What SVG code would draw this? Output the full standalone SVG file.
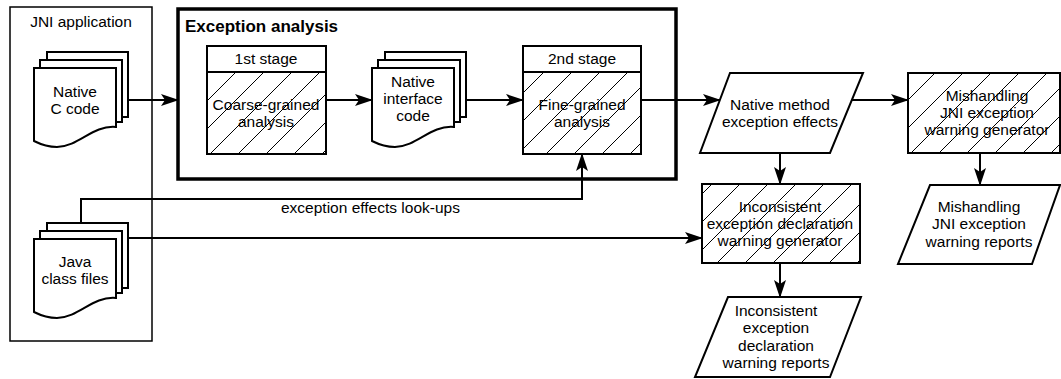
<svg xmlns="http://www.w3.org/2000/svg" width="1061" height="379" viewBox="0 0 1061 379">
<style>
text{font-family:"Liberation Sans",Arial,sans-serif;font-size:15.5px;fill:#000}
.c{text-anchor:middle}
.box{fill:#fff;stroke:#000;stroke-width:2}
.hatch{fill:url(#h);stroke:#000;stroke-width:2}
.page{fill:#fff;stroke:#000;stroke-width:2}
.con{fill:none;stroke:#000;stroke-width:2}
.arr{marker-end:url(#a)}
</style>
<defs>
<pattern id="h" patternUnits="userSpaceOnUse" width="28" height="28">
<rect width="28" height="28" fill="#fff"/>
<path d="M0,28 L28,0 M-7,7 L7,-7 M21,35 L35,21" stroke="#000" stroke-width="1"/>
</pattern>
<marker id="a" markerUnits="userSpaceOnUse" viewBox="0 0 18 12" refX="17" refY="6" markerWidth="18" markerHeight="12" orient="auto">
<path d="M0,0 L18,6 L0,12 L4,6 Z" fill="#000"/>
</marker>
<g id="docstack">
<rect x="47" y="52" width="81" height="65" class="page"/>
<rect x="40" y="60" width="82" height="62" class="page"/>
<path d="M34,68 H116 V127 C92,125 80,146 57,147 C47,147 40,144 34,141 Z" class="page"/>
</g>
</defs>

<g id="jni-app">
<rect x="10" y="7" width="142" height="334" fill="#fff" stroke="#000" stroke-width="1.5"/>
<text class="c" x="81" y="27">JNI application</text>
</g>

<g id="exception-analysis">
<rect x="178" y="9" width="498" height="170" fill="#fff" stroke="#000" stroke-width="3.5"/>
<text x="185" y="32" style="font-weight:bold;font-size:17px">Exception analysis</text>
</g>

<g id="connectors">
<path class="con arr" d="M128,100 H178"/>
<path class="con arr" d="M326,100 H372"/>
<path class="con arr" d="M467,100 H523"/>
<path class="con arr" d="M641,100 H720"/>
<path class="con arr" d="M852,100 H908"/>
<path class="con arr" d="M780,153 V184"/>
<path class="con arr" d="M980,153 V185"/>
<path class="con arr" d="M780,263 V297"/>
<path class="con arr" d="M81,223 V199 H582 V154"/>
<path class="con arr" d="M129,238 H702"/>
<text x="281" y="213">exception effects look-ups</text>
</g>

<g id="native-c-code">
<use href="#docstack"/>
<text class="c" x="75" y="97">Native</text>
<text class="c" x="75" y="114">C code</text>
</g>

<g id="java-class-files">
<use href="#docstack" transform="translate(0,171)"/>
<text class="c" x="75" y="267">Java</text>
<text class="c" x="75" y="284">class files</text>
</g>

<g id="stage1">
<rect x="207" y="46" width="119" height="108" class="hatch"/>
<rect x="207" y="46" width="119" height="26" class="box"/>
<text class="c" x="266" y="64">1st stage</text>
<text class="c" x="266" y="110">Coarse-grained</text>
<text class="c" x="266" y="127">analysis</text>
</g>

<g id="native-interface-code">
<use href="#docstack" transform="translate(338,0)"/>
<text class="c" x="413" y="87">Native</text>
<text class="c" x="413" y="104">interface</text>
<text class="c" x="413" y="121">code</text>
</g>

<g id="stage2">
<rect x="523" y="46" width="118" height="108" class="hatch"/>
<rect x="523" y="46" width="118" height="26" class="box"/>
<text class="c" x="582" y="64">2nd stage</text>
<text class="c" x="582" y="110">Fine-grained</text>
<text class="c" x="582" y="127">analysis</text>
</g>

<g id="native-method-effects">
<path d="M730,73 H863 L830,153 H700 Z" class="box"/>
<text class="c" x="780" y="110">Native method</text>
<text class="c" x="780" y="127">exception effects</text>
</g>

<g id="mishandling-generator">
<rect x="908" y="73" width="152" height="80" class="hatch"/>
<text class="c" x="987" y="101">Mishandling</text>
<text class="c" x="987" y="118">JNI exception</text>
<text class="c" x="987" y="135">warning generator</text>
</g>

<g id="mishandling-reports">
<path d="M930,185 H1060 L1032,264 H898 Z" class="box"/>
<text class="c" x="979" y="212">Mishandling</text>
<text class="c" x="979" y="229">JNI exception</text>
<text class="c" x="979" y="247">warning reports</text>
</g>

<g id="inconsistent-generator">
<rect x="702" y="184" width="158" height="79" class="hatch"/>
<text class="c" x="780" y="212">Inconsistent</text>
<text class="c" x="780" y="229">exception declaration</text>
<text class="c" x="780" y="246">warning generator</text>
</g>

<g id="inconsistent-reports">
<path d="M728,297 H861 L830,377 H695 Z" class="box"/>
<text class="c" x="776" y="316">Inconsistent</text>
<text class="c" x="776" y="333">exception</text>
<text class="c" x="776" y="351">declaration</text>
<text class="c" x="776" y="368">warning reports</text>
</g>
</svg>
